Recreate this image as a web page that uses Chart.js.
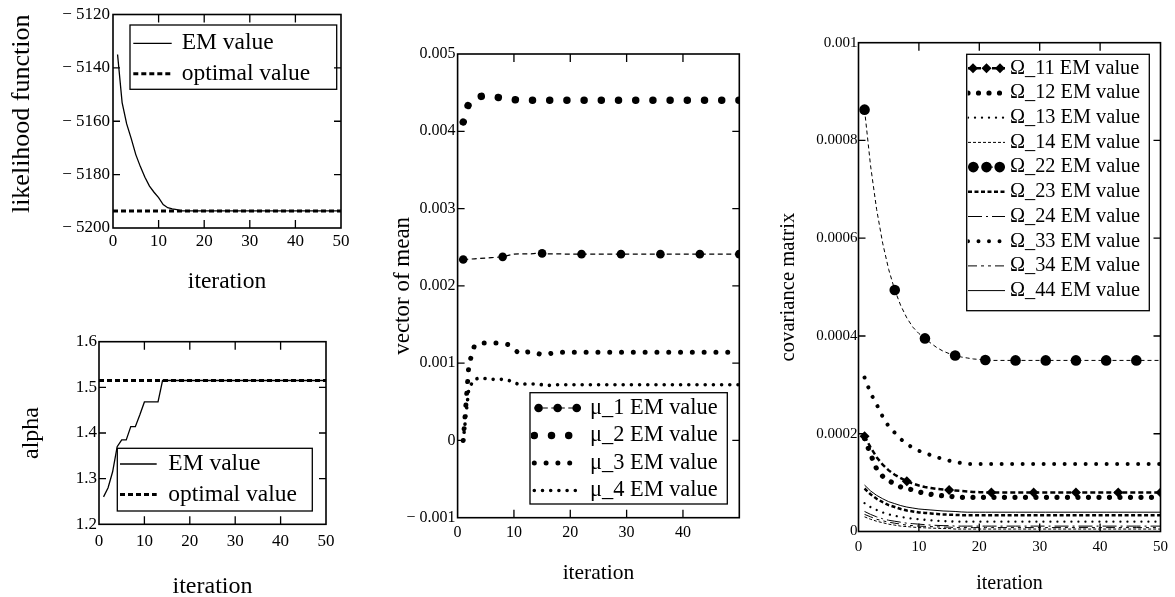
<!DOCTYPE html>
<html><head><meta charset="utf-8">
<script src="https://cdn.jsdelivr.net/npm/chart.js@4.4.1/dist/chart.umd.min.js"></script>
<style>
html,body{margin:0;padding:0;background:#fff;width:1175px;height:597px;overflow:hidden;position:relative;}
canvas{position:absolute;}
</style></head><body>
<canvas id="c1" width="353" height="296" style="left:7px;top:0px"></canvas>
<canvas id="c2" width="343" height="301" style="left:17px;top:300px"></canvas>
<canvas id="c3" width="381" height="566" style="left:389px;top:20px"></canvas>
<canvas id="c4" width="399" height="586" style="left:776px;top:10px"></canvas>
<script>
// ---------------- data ----------------
const iterTicks = [0, 10, 20, 30, 40, 50];
const iterLabels = ['0', '10', '20', '30', '40', '50'];
const iterLabelsMean = ['0', '10', '20', '30', '40', ''];

const likeTicks = [-5200, -5180, -5160, -5140, -5120];
const likeLabels = ['− 5200', '− 5180', '− 5160', '− 5140', '− 5120'];
const likeIter = [1,2,3,4,5,6,7,8,9,10,11,12,13,14,15,50];
const likeEM = [-5135,-5153,-5161,-5166.5,-5172.5,-5177,-5181,-5184.3,-5186.6,-5188.6,-5191.2,-5192.4,-5192.8,-5193.1,-5193.6,-5193.6];
const likeOptIter = [0, 50];
const likeOpt = [-5193.6, -5193.6];

const alphaTicks = [1.2, 1.3, 1.4, 1.5, 1.6];
const alphaLabels = ['1.2', '1.3', '1.4', '1.5', '1.6'];
const alphaIter = [1,2,3,4,5,6,7,8,9,10,11,12,13,14,50];
const alphaEM = [1.26,1.28,1.315,1.37,1.385,1.385,1.414,1.414,1.44,1.468,1.468,1.468,1.468,1.515,1.515];
const alphaOptIter = [0, 50];
const alphaOpt = [1.515, 1.515];

const meanTicks = [-0.001, 0, 0.001, 0.002, 0.003, 0.004, 0.005];
const meanLabels = ['− 0.001', '0', '0.001', '0.002', '0.003', '0.004', '0.005'];
const meanIter = [1,2,3,4,5,6,7,8,9,10,11,12,13,14,15,16,17,18,19,20,21,22,29,36,43,50];
const mu1 = [0.00234,0.002345,0.00235,0.002355,0.00236,0.002365,0.00237,0.002375,0.002395,0.00241,0.002415,0.002415,0.002415,0.00242,0.00242,0.002415,0.002415,0.002415,0.00241,0.00241,0.00241,0.00241,0.00241,0.00241,0.00241,0.00241];
const mu2 = [0.00412,0.00437,0.00443,0.00445,0.00446,0.00445,0.00444,0.00443,0.00442,0.00441,0.0044,0.0044,0.0044,0.0044,0.0044,0.0044,0.0044,0.0044,0.0044,0.0044,0.0044,0.0044,0.0044,0.0044,0.0044,0.0044];
const mu3 = [0,0.00098,0.00123,0.00126,0.00126,0.00126,0.00126,0.00125,0.00124,0.00118,0.00112,0.00114,0.00115,0.00113,0.00111,0.00112,0.00113,0.00114,0.00114,0.00114,0.00114,0.00114,0.00114,0.00114,0.00114,0.00114];
const mu4 = [0,0.00068,0.00079,0.00081,0.0008,0.00079,0.00079,0.00079,0.00078,0.00075,0.00072,0.00073,0.00073,0.00073,0.00072,0.00071,0.00072,0.00072,0.00072,0.00072,0.00072,0.00072,0.00072,0.00072,0.00072,0.00072];

const covTicks = [0, 0.0002, 0.0004, 0.0006, 0.0008, 0.001];
const covLabels = ['0', '0.0002', '0.0004', '0.0006', '0.0008', '0.001'];
const covIter = [1,2,3,4,5,6,7,8,9,10,11,12,13,14,15,16,17,18,19,20,21,22,26,29,31,36,41,43,46,50];
const omega11 = [195e-6,172e-6,152e-6,137e-6,125e-6,116e-6,109e-6,103e-6,98e-6,94e-6,91e-6,89e-6,87e-6,86e-6,85e-6,84e-6,83e-6,82e-6,81e-6,80.5e-6,80e-6,80e-6,80e-6,80e-6,80e-6,80e-6,80e-6,80e-6,80e-6,80e-6];
const omega12 = [190e-6,158e-6,128e-6,113e-6,104e-6,97e-6,91e-6,88e-6,85e-6,81e-6,78e-6,76e-6,74e-6,73e-6,72e-6,71e-6,70e-6,70e-6,70e-6,70e-6,70e-6,70e-6,70e-6,70e-6,70e-6,70e-6,70e-6,70e-6,70e-6,70e-6];
const omega13 = [58e-6,50e-6,44e-6,39e-6,35e-6,32e-6,30e-6,28e-6,26e-6,25e-6,24e-6,23e-6,22e-6,21e-6,21e-6,20e-6,20e-6,20e-6,20e-6,20e-6,20e-6,20e-6,20e-6,20e-6,20e-6,20e-6,20e-6,20e-6,20e-6,20e-6];
const omega14 = [30e-6,25e-6,21e-6,18e-6,15e-6,13e-6,11e-6,10e-6,9e-6,8e-6,7.5e-6,7e-6,6.5e-6,6e-6,6e-6,5e-6,5e-6,5e-6,5e-6,5e-6,5e-6,5e-6,5e-6,5e-6,5e-6,5e-6,5e-6,5e-6,5e-6,5e-6];
const omega22 = [863e-6,748e-6,659e-6,590e-6,536e-6,494e-6,462e-6,437e-6,418e-6,405e-6,395e-6,385e-6,376e-6,369e-6,364e-6,360e-6,357e-6,355e-6,353e-6,352e-6,351e-6,350e-6,350e-6,350e-6,350e-6,350e-6,350e-6,350e-6,350e-6,350e-6];
const omega23 = [88e-6,76e-6,67e-6,60e-6,54e-6,50e-6,46e-6,43e-6,41e-6,39e-6,38e-6,37e-6,36e-6,35e-6,34.5e-6,34e-6,33.5e-6,33.5e-6,33.5e-6,33.5e-6,33.5e-6,33.5e-6,33.5e-6,33.5e-6,33.5e-6,33.5e-6,33.5e-6,33.5e-6,33.5e-6,33.5e-6];
const omega24 = [41e-6,35e-6,30e-6,26e-6,23e-6,21e-6,19e-6,17e-6,16e-6,15e-6,14e-6,13e-6,12.5e-6,12e-6,12e-6,11e-6,11e-6,11e-6,11e-6,11e-6,11e-6,11e-6,11e-6,11e-6,11e-6,11e-6,11e-6,11e-6,11e-6,11e-6];
const omega33 = [315e-6,283e-6,260e-6,235e-6,215e-6,202e-6,189e-6,179e-6,171e-6,165e-6,161e-6,156e-6,152e-6,148e-6,145e-6,142e-6,140e-6,138e-6,138e-6,138e-6,138e-6,138e-6,138e-6,138e-6,138e-6,138e-6,138e-6,138e-6,138e-6,138e-6];
const omega34 = [35e-6,30e-6,25e-6,22e-6,19e-6,17e-6,15e-6,13e-6,12e-6,11e-6,10.5e-6,10e-6,9.5e-6,9e-6,9e-6,8e-6,8e-6,8e-6,8e-6,8e-6,8e-6,8e-6,8e-6,8e-6,8e-6,8e-6,8e-6,8e-6,8e-6,8e-6];
const omega44 = [95e-6,83e-6,74e-6,67e-6,61e-6,57e-6,53e-6,50e-6,48e-6,46e-6,45e-6,44e-6,43e-6,42e-6,41.5e-6,41e-6,40e-6,39.5e-6,39.5e-6,39.5e-6,39.5e-6,39.5e-6,39.5e-6,39.5e-6,39.5e-6,39.5e-6,39.5e-6,39.5e-6,39.5e-6,39.5e-6];

// ---------------- rendering ----------------
const FONT = '"Liberation Serif", "Times New Roman", Times, serif';
Chart.defaults.font.family = FONT;
Chart.defaults.color = '#000';

const legendCfg = {
  c1: {x: 123, y: 25, w: 206.7, h: 64.3, row0: 43.3, rowH: 30.5, s0: 126.3, s1: 164.7, tx: 174.7, font: 23.5},
  c2: {x: 100.3, y: 148.3, w: 195, h: 62.7, row0: 164, rowH: 30.5, s0: 103, s1: 139.7, tx: 151.3, font: 23.5},
  c3: {x: 141, y: 372.7, w: 197.3, h: 111.3, row0: 388, rowH: 27.5, s0: 145.3, s1: 192, tx: 201, font: 22.4},
  c4: {x: 190.7, y: 44.3, w: 182.6, h: 256.4, row0: 58.3, rowH: 24.7, s0: 192, s1: 229, tx: 234, font: 20.3}
};

function marker(ctx, style, x, y, r) {
  ctx.beginPath();
  if (style === 'rectRot') {
    ctx.moveTo(x, y - r); ctx.lineTo(x + r, y); ctx.lineTo(x, y + r); ctx.lineTo(x - r, y); ctx.closePath();
  } else {
    ctx.arc(x, y, r, 0, Math.PI * 2);
  }
  ctx.fillStyle = '#000';
  ctx.fill();
}

function drawLegend(chart, L) {
  const ctx = chart.ctx;
  ctx.save();
  ctx.fillStyle = '#fff';
  ctx.fillRect(L.x, L.y, L.w, L.h);
  ctx.strokeStyle = '#000';
  ctx.lineWidth = 1.3;
  ctx.strokeRect(L.x, L.y, L.w, L.h);
  ctx.font = L.font + 'px ' + FONT;
  ctx.textBaseline = 'middle';
  ctx.textAlign = 'left';
  chart.data.datasets.forEach((d, i) => {
    const y = L.row0 + i * L.rowH;
    ctx.save();
    ctx.beginPath(); ctx.rect(L.x + 1, L.y + 1, L.w - 2, L.h - 2); ctx.clip();
    ctx.strokeStyle = '#000';
    ctx.lineWidth = d.borderWidth;
    ctx.lineCap = d.borderCapStyle || 'butt';
    ctx.setLineDash(d.borderDash || []);
    ctx.beginPath(); ctx.moveTo(L.s0, y); ctx.lineTo(L.s1, y); ctx.stroke();
    if (d.mk) {
      const r = d.mk.r;
      [L.s0 + r, (L.s0 + L.s1) / 2, L.s1 - r].forEach(px => marker(ctx, d.mk.style, px, y, r));
    }
    ctx.restore();
    ctx.fillStyle = '#000';
    ctx.fillText(d.label, L.tx, y);
  });
  ctx.restore();
}

const framePlugin = {
  id: 'frameLegend',
  afterDatasetsDraw(chart) {
    const ctx = chart.ctx, a = chart.chartArea;
    const L = legendCfg[chart.canvas.id];
    if (L) drawLegend(chart, L);
    const xs = chart.scales.x, ys = chart.scales.y;
    ctx.save();
    ctx.setLineDash([]);
    ctx.strokeStyle = '#000';
    ctx.lineWidth = 1.6;
    ctx.strokeRect(a.left, a.top, a.right - a.left, a.bottom - a.top);
    ctx.lineWidth = 1.3;
    ctx.beginPath();
    xs.ticks.forEach(t => {
      if (t.value <= xs.min || t.value >= xs.max) return;
      const p = xs.getPixelForValue(t.value);
      ctx.moveTo(p, a.bottom); ctx.lineTo(p, a.bottom - 8);
      ctx.moveTo(p, a.top); ctx.lineTo(p, a.top + 8);
    });
    ys.ticks.forEach(t => {
      if (t.value <= ys.min || t.value >= ys.max) return;
      const p = ys.getPixelForValue(t.value);
      ctx.moveTo(a.left, p); ctx.lineTo(a.left + 7, p);
      ctx.moveTo(a.right, p); ctx.lineTo(a.right - 7, p);
    });
    ctx.stroke();
    ctx.restore();
  }
};

function series(label, xs, ys, st) {
  return Object.assign({
    label, data: xs.map((x, i) => ({x, y: ys[i]})),
    borderColor: '#000', backgroundColor: '#000', borderWidth: 1,
    pointRadius: 0, fill: false, tension: 0
  }, st);
}
function withMarkers(style, r, every, last) {
  return {
    mk: {style, r}, pointStyle: style,
    pointBackgroundColor: '#000', pointBorderColor: '#000', pointBorderWidth: 0,
    pointRadius: c => (c.parsed && (c.parsed.x - 1) % every === 0 && c.parsed.x <= last) ? r : 0
  };
}
const dots = (w, gap) => ({borderWidth: w, borderDash: [0.001, gap], borderCapStyle: 'round'});

function makeChart(id, datasets, o) {
  return new Chart(document.getElementById(id), {
    type: 'line',
    data: {datasets},
    options: {
      responsive: false, animation: false, devicePixelRatio: 1, events: [],
      layout: {padding: {top: o.pt, right: o.pr, left: 0, bottom: 0}},
      plugins: {legend: {display: false}, tooltip: {enabled: false}},
      scales: {
        x: {
          type: 'linear', position: 'bottom', min: 0, max: 50,
          afterBuildTicks: s => { s.ticks = iterTicks.map(v => ({value: v})); },
          grid: {display: false, drawTicks: false, tickLength: 0}, border: {display: false},
          ticks: {font: {size: o.tick}, color: '#000', padding: o.xpad, maxRotation: 0, autoSkip: false,
                  callback: (v, i) => o.xLabels[i]},
          title: {display: true, text: 'iteration', color: '#000', font: {size: o.xt}, padding: 0},
          afterFit: s => { s.height = o.xh; }
        },
        y: {
          type: 'linear', position: 'left', min: o.ymin, max: o.ymax,
          afterBuildTicks: s => { s.ticks = o.yTicks.map(v => ({value: v})); },
          grid: {display: false, drawTicks: false, tickLength: 0}, border: {display: false},
          ticks: {font: {size: o.tick}, color: '#000', padding: o.ypad, autoSkip: false,
                  callback: (v, i) => o.yLabels[i]},
          title: {display: true, text: o.ytitle, color: '#000', font: {size: o.yt}, padding: 0, align: o.yalign || 'center'},
          afterFit: s => { s.width = o.yw; }
        }
      }
    },
    plugins: [framePlugin]
  });
}

const optStyle = {borderWidth: 3, borderDash: [5, 3]};

makeChart('c1', [
  series('EM value', likeIter, likeEM, {borderWidth: 1.3}),
  series('optimal value', likeOptIter, likeOpt, optStyle)
], {pt: 14.5, pr: 19, yw: 106, xh: 68, tick: 17, xpad: 3.5, ypad: 3, xt: 23.5, yt: 26, yalign: 'end',
    ymin: -5200, ymax: -5120, yTicks: likeTicks, yLabels: likeLabels, xLabels: iterLabels, ytitle: 'likelihood function'});

makeChart('c2', [
  series('EM value', alphaIter, alphaEM, {borderWidth: 1.3}),
  series('optimal value', alphaOptIter, alphaOpt, optStyle)
], {pt: 41.7, pr: 34, yw: 82, xh: 76.7, tick: 17, xpad: 7, ypad: 2, xt: 24, yt: 24,
    ymin: 1.2, ymax: 1.6, yTicks: alphaTicks, yLabels: alphaLabels, xLabels: iterLabels, ytitle: 'alpha'});

makeChart('c3', [
  series('μ_1 EM value', meanIter, mu1, Object.assign({borderWidth: 1.2, borderDash: [5, 3.5]}, withMarkers('circle', 4.3, 7, 50))),
  series('μ_2 EM value', meanIter, mu2, dots(7.5, 17.2)),
  series('μ_3 EM value', meanIter, mu3, dots(5, 11.8)),
  series('μ_4 EM value', meanIter, mu4, dots(3.6, 8.2))
], {pt: 34, pr: 30.7, yw: 68.6, xh: 68.3, tick: 16, xpad: 5.7, ypad: 2, xt: 21.5, yt: 23,
    ymin: -0.001, ymax: 0.005, yTicks: meanTicks, yLabels: meanLabels, xLabels: iterLabelsMean, ytitle: 'vector of mean'});

makeChart('c4', [
  series('Ω_11 EM value', covIter, omega11, Object.assign({borderWidth: 2.5, borderDash: [5, 3]}, withMarkers('rectRot', 5, 7, 50))),
  series('Ω_12 EM value', covIter, omega12, dots(5.2, 10.5)),
  series('Ω_13 EM value', covIter, omega13, dots(2.3, 7)),
  series('Ω_14 EM value', covIter, omega14, {borderWidth: 1, borderDash: [3, 2]}),
  series('Ω_22 EM value', covIter, omega22, Object.assign({borderWidth: 1, borderDash: [4, 3]}, withMarkers('circle', 5.3, 5, 46))),
  series('Ω_23 EM value', covIter, omega23, {borderWidth: 2.5, borderDash: [4, 2.5]}),
  series('Ω_24 EM value', covIter, omega24, {borderWidth: 1, borderDash: [14, 4, 2, 4]}),
  series('Ω_33 EM value', covIter, omega33, dots(4, 10.5)),
  series('Ω_34 EM value', covIter, omega34, {borderWidth: 1, borderDash: [9, 4, 3, 4, 3, 4]}),
  series('Ω_44 EM value', covIter, omega44, {borderWidth: 1})
], {pt: 32.7, pr: 14.5, yw: 82.5, xh: 64.5, tick: 15, xpad: 7, ypad: 1, xt: 20, yt: 20.7,
    ymin: 0, ymax: 0.001, yTicks: covTicks, yLabels: covLabels, xLabels: iterLabels, ytitle: 'covariance matrix'});
</script>
</body></html>
